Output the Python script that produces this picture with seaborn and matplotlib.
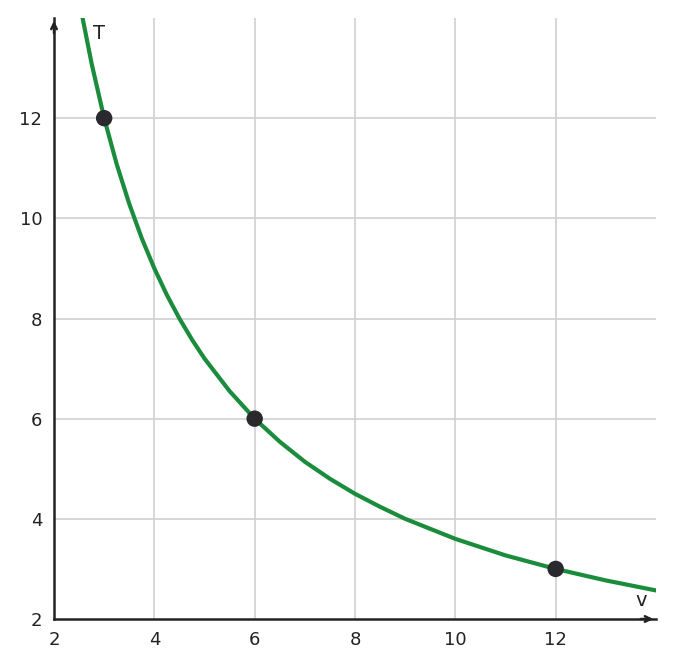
import matplotlib.pyplot as plt
import seaborn as sns

# curve (T against v)
curve_v = [2.57, 2.75, 3.0, 3.25, 3.5, 3.75, 4.0, 4.25, 4.5, 4.75, 5.0, 5.5, 6.0, 6.5,
           7.0, 7.5, 8.0, 8.5, 9.0, 10.0, 11.0, 12.0, 13.0, 14.0]
curve_t = [14.0, 13.09, 12.0, 11.08, 10.29, 9.6, 9.0, 8.47, 8.0, 7.58, 7.2, 6.55, 6.0, 5.54,
           5.14, 4.8, 4.5, 4.24, 4.0, 3.6, 3.27, 3.0, 2.77, 2.57]
point_v = [3, 6, 12]
point_t = [12, 6, 3]
ticks = [2, 4, 6, 8, 10, 12]

sns.set_style("white")
fig = plt.figure(figsize=(6.74, 6.68), dpi=100)
ax = fig.add_axes([54 / 674, 49 / 668, 602 / 674, 601 / 668])

for t in ticks[1:]:
    ax.axvline(t, color="#d0d0d0", lw=1.2, zorder=0)
    ax.axhline(t, color="#d0d0d0", lw=1.2, zorder=0)

sns.lineplot(x=curve_v, y=curve_t, ax=ax, color="#1a8c3c", lw=3, sort=False, zorder=2)
sns.scatterplot(x=point_v, y=point_t, ax=ax, color="#2a2a2e", s=140, edgecolor="none", zorder=3)

ax.set_xlim(2, 14)
ax.set_ylim(2, 14)
ax.set_xticks(ticks)
ax.set_yticks(ticks)
ax.tick_params(labelsize=13, colors="#222222", length=5, width=1.5, direction="out")
for s in ["top", "right"]:
    ax.spines[s].set_visible(False)
for s in ["left", "bottom"]:
    ax.spines[s].set_color("#222222")
    ax.spines[s].set_linewidth(1.8)
ax.plot(1, 0, ">", color="#222222", transform=ax.transAxes, clip_on=False, ms=0)
ax.annotate("", xy=(1.0, 0), xytext=(0.97, 0), xycoords="axes fraction",
            arrowprops=dict(arrowstyle="->", color="#222222", lw=1.8))
ax.annotate("", xy=(0, 1.0), xytext=(0, 0.97), xycoords="axes fraction",
            arrowprops=dict(arrowstyle="->", color="#222222", lw=1.8))
ax.text(0.065, 0.975, "T", transform=ax.transAxes, fontsize=14, color="#222222", va="center")
ax.text(0.965, 0.03, "v", transform=ax.transAxes, fontsize=14, color="#222222", va="center")
ax.set_xlabel("")
ax.set_ylabel("")

fig.savefig("out.png", dpi=100)
